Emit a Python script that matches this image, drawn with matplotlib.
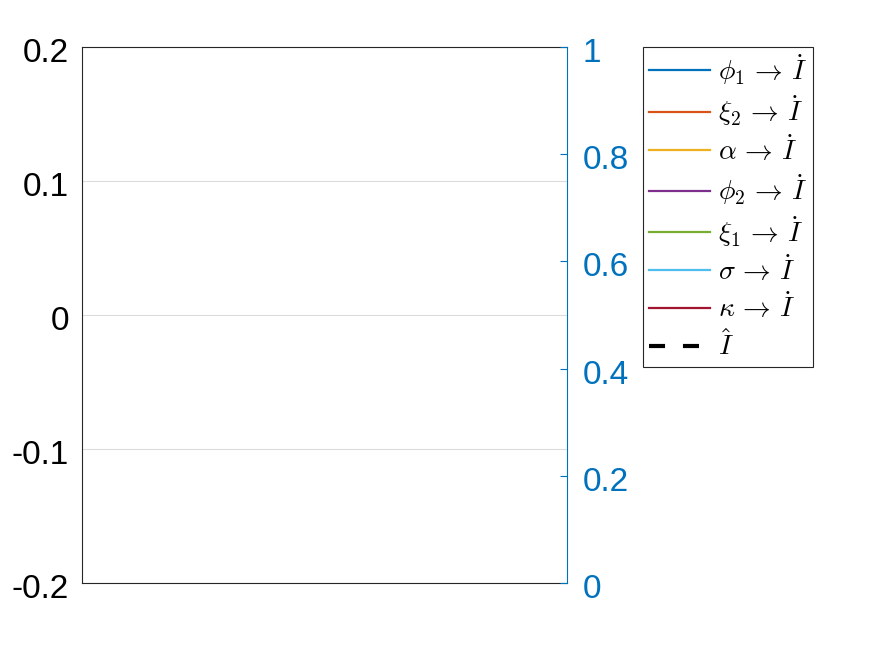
import matplotlib
matplotlib.use('Agg')
import matplotlib.pyplot as plt
import matplotlib.transforms as mtransforms

plt.rcParams['font.family'] = ['Liberation Sans', 'DejaVu Sans']
plt.rcParams['mathtext.fontset'] = 'cm'
plt.rcParams['axes.unicode_minus'] = False

# series (no data points are drawn in the reference)
labels = [r'$\phi_1 \,\rightarrow\, \dot{I}$', r'$\xi_2 \,\rightarrow\, \dot{I}$',
          r'$\alpha \,\rightarrow\, \dot{I}$', r'$\phi_2 \,\rightarrow\, \dot{I}$',
          r'$\xi_1 \,\rightarrow\, \dot{I}$', r'$\sigma \,\rightarrow\, \dot{I}$',
          r'$\kappa \,\rightarrow\, \dot{I}$']
colors = ['#0072BD', '#D95319', '#EDB120', '#7E2F8E', '#77AC30', '#4DBEEE', '#A2142F']
x_values = []
y_values = []
hat_label = r'$\hat{I}$'

left_ticks = [-0.2, -0.1, 0, 0.1, 0.2]
left_ticklabels = ['-0.2', '-0.1', '0', '0.1', '0.2']
right_ticks = [0, 0.2, 0.4, 0.6, 0.8, 1]
right_ticklabels = ['0', '0.2', '0.4', '0.6', '0.8', '1']

blue = '#0072BD'

fig = plt.figure(figsize=(8.75, 6.56), dpi=100)
ax = fig.add_axes([0.0937, 0.1113, 0.5543, 0.8171])
ax2 = ax.twinx()

handles = []
for lab, c in zip(labels, colors):
    h, = ax.plot(x_values, y_values, color=c, lw=1.6, label=lab)
    handles.append(h)
h, = ax.plot(x_values, y_values, color='k', lw=3, label=hat_label,
             linestyle=(0, (3.85, 4.3)))
handles.append(h)

ax.set_xlim(0, 1)
ax.set_ylim(-0.2, 0.2)
ax.set_yticks(left_ticks)
ax.set_yticklabels(left_ticklabels)
ax.set_xticks([])
ax.tick_params(axis='y', length=0, labelsize=24, pad=9.4)
ax.grid(axis='y', color='#dcdcdc', lw=0.8)
ax.set_axisbelow(True)
for s in ['left', 'top', 'bottom']:
    ax.spines[s].set_linewidth(0.8)
    ax.spines[s].set_color('#262626')
ax.spines['right'].set_visible(False)

ax2.set_ylim(0, 1)
ax2.set_yticks(right_ticks)
ax2.set_yticklabels(right_ticklabels)
ax2.tick_params(axis='y', direction='in', length=5, width=0.8, colors=blue,
                labelsize=24, pad=11.5)
ax2.spines['right'].set_color(blue)
ax2.spines['right'].set_linewidth(0.8)
for s in ['left', 'top', 'bottom']:
    ax2.spines[s].set_visible(False)

# MATLAB puts tick labels a little below the tick
shift = mtransforms.ScaledTranslation(0, -3 / 100, fig.dpi_scale_trans)
for lab in ax.get_yticklabels() + ax2.get_yticklabels():
    lab.set_transform(lab.get_transform() + shift)

leg = fig.legend(handles=handles, loc='upper left', bbox_to_anchor=(0.735, 0.9284),
                 bbox_transform=fig.transFigure, borderaxespad=0, fontsize=20,
                 fancybox=False, edgecolor='#262626', framealpha=1,
                 handlelength=2.2, handletextpad=0.3, labelspacing=0.25,
                 borderpad=0.2)
leg.get_frame().set_linewidth(0.8)

fig.savefig('out.png', dpi=100)
